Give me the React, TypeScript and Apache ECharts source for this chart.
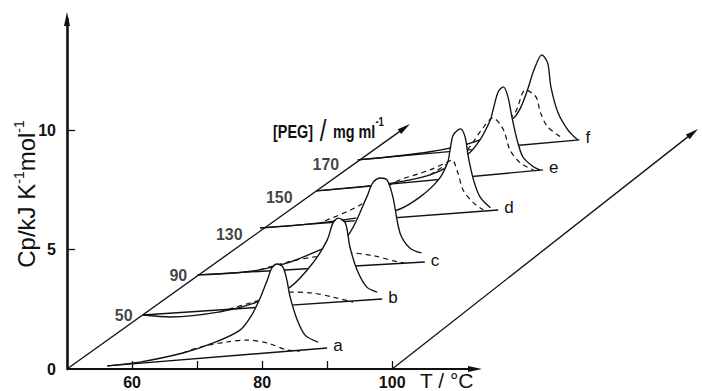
import React, { useEffect, useRef } from 'react';
import * as echarts from 'echarts';

const W = 702;
const H = 391;

// ---- data -------------------------------------------------------------
const curveNames = ['a', 'b', 'c', 'd', 'e', 'f'];
const pegValues = ['', '50', '90', '130', '150', '170']; // [PEG] / mg ml-1 (curve a: no PEG)
// oblique (pseudo-3D) offset of each curve's frame along the [PEG] axis
const shiftT = [0, 11.7, 20.1, 29.7, 38.3, 44.7];
const shiftCp = [0, 2.26, 3.94, 5.91, 7.46, 8.76];

// each curve in its own frame: [T / °C, Cp / kJ K-1 mol-1]
const baseA = [[56.2, 0.13], [90.0, 0.88]];
const peakA = [[56.2, 0.13], [61.2, 0.29], [67.8, 0.67], [72.5, 1.09], [76.6, 1.63], [78.4, 2.26], [79.7, 2.97], [80.8, 3.73], [81.5, 4.23], [82.3, 4.4], [83.2, 4.27], [83.8, 3.73], [84.3, 3.02], [85.4, 2.05], [86.6, 1.42], [88.6, 1.13]];
const dashA = [[67.8, 0.67], [70.5, 0.92], [74.6, 1.13], [77.7, 1.21], [80.8, 1.09], [83.8, 0.8], [85.8, 0.75]];

const baseB = [[50, 0], [86.75, 0.67]];
const peakB = [[50, 0], [54.2, -0.08], [61.8, 0.13], [67.5, 0.54], [72.6, 1.17], [76.1, 2.18], [78.3, 3.14], [79.2, 3.86], [80.0, 4.06], [81.1, 3.86], [81.8, 2.85], [82.9, 1.89], [84.4, 1.17], [86.0, 0.96]];
const dashB = [[61.8, 0.13], [67.5, 0.59], [72.6, 0.96], [76.1, 0.92], [79.2, 0.75], [82.3, 0.54]];

const baseC = [[50, 0], [84.9, 0.54]];
const peakC = [[50, 0], [55.4, 0.08], [59.5, 0.21], [64.2, 0.54], [68.8, 1.05], [72.9, 1.59], [76.0, 3.27], [76.9, 3.86], [78.0, 4.06], [79.1, 3.98], [80.0, 3.27], [81.1, 1.76], [82.6, 1.13], [84.4, 0.92]];
const dashC = [[59.5, 0.21], [63.8, 0.54], [67.8, 0.75], [73.5, 0.92], [77.1, 0.8], [80.1, 0.59], [81.8, 0.5]];

const baseD = [[50, 0], [86.6, 0.75]];
const peakD = [[50, 0], [56.2, 0.13], [64.9, 0.42], [71.1, 0.75], [74.6, 1.3], [77.4, 2.01], [78.8, 2.72], [79.2, 3.27], [79.7, 3.9], [80.8, 4.15], [81.5, 3.81], [82.0, 2.97], [82.8, 2.01], [83.8, 1.3], [85.4, 0.84]];
const dashD = [[60.0, 0.3], [65.0, 0.9], [70.5, 1.89], [76.1, 2.43], [78.8, 2.76], [79.5, 2.85], [80.4, 2.3], [81.2, 1.59], [82.8, 1.05], [84.3, 0.75]];

const baseE = [[50, 0], [84.9, 0.88]];
const peakE = [[50, 0], [59.8, 0.25], [67.5, 0.67], [73.2, 1.51], [75.2, 2.14], [76.8, 2.98], [77.2, 3.39], [78.0, 4.15], [78.8, 4.36], [79.5, 3.94], [80.1, 3.1], [80.9, 2.14], [81.8, 1.42], [83.4, 1.01], [84.4, 0.88]];
const dashE = [[67.5, 0.67], [73.2, 1.72], [75.2, 2.47], [77.2, 3.06], [78.8, 2.56], [79.8, 1.72], [81.4, 1.17], [83.4, 0.88]];

const baseF = [[50, 0], [84.1, 0.84]];
const peakF = [[50, 0], [61.1, 0.34], [68.8, 0.84], [74.0, 1.76], [75.1, 2.22], [76.1, 2.93], [77.1, 3.77], [78.3, 4.4], [79.2, 4.06], [79.7, 3.06], [80.8, 1.97], [82.3, 1.26], [83.8, 0.84]];
const dashF = [[68.8, 0.84], [74.0, 1.9], [75.8, 2.93], [77.4, 2.64], [78.1, 1.97], [79.2, 1.38], [81.2, 0.96]];

const bases = [baseA, baseB, baseC, baseD, baseE, baseF];
const peaks = [peakA, peakB, peakC, peakD, peakE, peakF];
const dashes = [dashA, dashB, dashC, dashD, dashE, dashF];

// axes
const xMin = 50;
const xMax = 147.63; // right edge of the drawing area
const xAxisEnd = 112.73; // where the drawn T axis (with its arrow) stops
const yMin = 0;
const yMax = 14.66;
const xTicks = [60, 70, 80, 90, 100];
const xLabels = [60, 80, 100];
const yTicks = [5, 10];
const yLabels = [0, 5, 10];
const pegAxisLine = [[50, 0], [101.92, 10.1]];
const depthLine100 = [[100, 0], [146.23, 9.89]];

// ---- styles -----------------------------------------------------------
const SANS = '"Liberation Sans", Arial, Helvetica, sans-serif';
const INK = '#111';
const LW = 1.35;
const pegLabelGap = [0, 10, 10, 17, 23, 18];
const pegLabelDy = [0, 0, 1, 7, 7, 5];
const tickFont = { color: INK, fontFamily: SANS, fontWeight: 'bold' as const, fontSize: 16 };

function shifted(pts: number[][], i: number) {
  return pts.map(([t, c]) => [t + shiftT[i], c + shiftCp[i]]);
}

function buildOption() {
  const series: any[] = [];
  curveNames.forEach((name, i) => {
    const z = 100 - i * 10;
    const base = shifted(bases[i], i);
    const peak = shifted(peaks[i], i);
    const dash = shifted(dashes[i], i);
    series.push({
      type: 'custom',
      coordinateSystem: 'cartesian2d',
      z,
      silent: true,
      clip: false,
      data: [base[0]],
      renderItem: (_p: any, api: any) => ({
        type: 'polygon',
        shape: { points: [...peak, base[1], base[0]].map((p) => api.coord(p)) },
        style: { fill: '#fff', stroke: 'none' },
      }),
    });
    series.push({
      type: 'line',
      z: z + 1,
      data: base,
      symbol: 'none',
      clip: false,
      silent: true,
      lineStyle: { color: INK, width: LW },
      endLabel: {
        show: true,
        formatter: name,
        color: INK,
        fontFamily: SANS,
        fontSize: 17,
        distance: 6,
        offset: [0, -2],
      },
    });
    series.push({
      type: 'line',
      z: z + 1,
      data: dash,
      symbol: 'none',
      smooth: 0.3,
      clip: false,
      silent: true,
      lineStyle: { color: INK, width: 1.2, type: [5, 4] },
    });
    series.push({
      type: 'line',
      z: z + 2,
      data: peak,
      symbol: 'none',
      smooth: 0.3,
      clip: false,
      silent: true,
      lineStyle: { color: INK, width: LW },
    });
  });

  // T axis line with arrow
  series.push({
    type: 'line',
    z: 200,
    clip: false,
    silent: true,
    symbol: 'triangle',
    symbolSize: [6, 14],
    symbolRotate: -90,
    itemStyle: { color: INK },
    lineStyle: { color: INK, width: 2.2 },
    data: [{ value: [xMin, 0], symbol: 'none' }, { value: [xAxisEnd, 0] }],
  });
  // oblique [PEG] axis
  series.push({
    type: 'line',
    z: 200,
    clip: false,
    silent: true,
    symbol: 'triangle',
    symbolSize: [6, 13],
    symbolRotate: -54,
    itemStyle: { color: INK },
    lineStyle: { color: INK, width: LW },
    data: [{ value: pegAxisLine[0], symbol: 'none' }, { value: pegAxisLine[1] }],
  });
  // 100 °C depth line
  series.push({
    type: 'line',
    z: 200,
    clip: false,
    silent: true,
    symbol: 'triangle',
    symbolSize: [6, 13],
    symbolRotate: -52,
    itemStyle: { color: INK },
    lineStyle: { color: INK, width: LW },
    data: [{ value: depthLine100[0], symbol: 'none' }, { value: depthLine100[1] }],
  });
  // [PEG] tick labels on the oblique axis
  series.push({
    type: 'scatter',
    z: 210,
    clip: false,
    silent: true,
    symbol: 'circle',
    symbolSize: 1,
    itemStyle: { color: 'rgba(0,0,0,0)' },
    data: pegValues
      .map((v, i) => ({
        value: [xMin + shiftT[i], shiftCp[i]],
        label: {
          show: v !== '',
          formatter: v,
          position: 'left',
          distance: pegLabelGap[i],
          offset: [0, pegLabelDy[i]],
          ...tickFont,
        },
      }))
      .filter((_d, i) => pegValues[i] !== ''),
  });

  return {
    animation: false,
    backgroundColor: '#fff',
    grid: { left: 67, right: 0, top: 19, bottom: H - 369, outerBoundsMode: 'none', containLabel: false },
    xAxis: {
      type: 'value',
      min: xMin,
      max: xMax,
      z: 150,
      axisLine: { show: false },
      axisTick: { inside: true, length: 8, lineStyle: { color: INK, width: 1.3 }, customValues: xTicks },
      axisLabel: { customValues: xLabels, margin: 5, ...tickFont },
      splitLine: { show: false },
    },
    yAxis: {
      type: 'value',
      min: yMin,
      max: yMax,
      z: 150,
      name: '{n|Cp/kJ K}{s|-1}{n|mol}{s|-1}',
      nameLocation: 'middle',
      nameRotate: 90,
      nameGap: 27,
      nameMoveOverlap: false,
      nameTextStyle: {
        rich: {
          n: { fontFamily: SANS, fontSize: 24, color: INK, lineHeight: 28 },
          s: { fontFamily: SANS, fontSize: 14, color: INK, verticalAlign: 'top', lineHeight: 28 },
        },
      },
      axisLine: {
        lineStyle: { color: INK, width: 2.6 },
        symbol: ['none', 'triangle'],
        symbolSize: [6, 14],
      },
      axisTick: { inside: true, length: 8, lineStyle: { color: INK, width: 1.3 }, customValues: yTicks },
      axisLabel: { customValues: yLabels, margin: 11, ...tickFont },
      splitLine: { show: false },
    },
    graphic: [
      {
        type: 'text',
        x: 420,
        y: 380,
        z: 300,
        style: { text: 'T / °C', fill: INK, font: `21px ${SANS}`, verticalAlign: 'middle', align: 'left' },
      },
      {
        type: 'text',
        x: 273,
        y: 131,
        z: 300,
        scaleX: 0.8,
        style: {
          text: '{b|[PEG]}{sl| / }{b|mg ml}{s|-1}',
          verticalAlign: 'middle',
          align: 'left',
          rich: {
            b: { fontFamily: SANS, fontWeight: 'bold', fontSize: 18, fill: INK, lineHeight: 30 },
            sl: { fontFamily: SANS, fontSize: 30, fill: INK, lineHeight: 30 },
            s: { fontFamily: SANS, fontWeight: 'bold', fontSize: 12, fill: INK, verticalAlign: 'top', lineHeight: 30 },
          },
        },
      },
    ],
    series,
  };
}

export default function App() {
  const ref = useRef<HTMLDivElement>(null);
  useEffect(() => {
    if (!ref.current) return;
    const chart = echarts.init(ref.current, undefined, { renderer: 'svg', width: W, height: H });
    chart.setOption(buildOption() as any);
    return () => chart.dispose();
  }, []);
  return (
    <div
      ref={ref}
      style={{ position: 'absolute', left: 0, top: 0, width: W, height: H, background: '#fff' }}
    />
  );
}
